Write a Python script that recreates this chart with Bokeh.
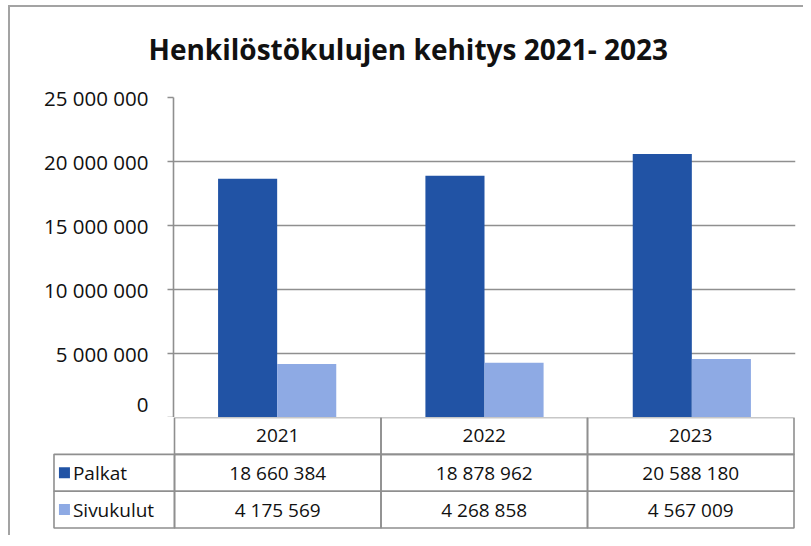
from bokeh.plotting import figure
from bokeh.models import Range1d, FixedTicker, CustomJSTickFormatter, ColumnDataSource
from bokeh.transform import dodge
from bokeh.core.properties import value
from bokeh.embed import file_html
from bokeh.resources import INLINE

# ---- data ----
years = ["2021", "2022", "2023"]
series = ["Palkat", "Sivukulut"]
palkat = [18660384, 18878962, 20588180]
sivukulut = [4175569, 4268858, 4567009]
y_ticks = [0, 5000000, 10000000, 15000000, 20000000, 25000000]
title_text = "Henkilöstökulujen kehitys 2021- 2023"

# ---- style ----
DARK = "#2153a5"
LIGHT = "#8eaae4"
GRID = "#8f8f8f"
FONT = "Open Sans"
BORDER = "#a3a3a3"


def fmt(v):
    return f"{v:,}".replace(",", " ")


idx = list(range(len(years)))
src = ColumnDataSource(dict(x=idx, palkat=palkat, sivukulut=sivukulut))

BAR_W = 0.285
FRAME_W = 622  # px of chart frame for 3 category bands
u_per_px = 3 / FRAME_W

p1 = figure(width=803, height=417, x_range=Range1d(-0.5, 2.5),
            y_range=Range1d(0, 25000000), output_backend="svg",
            toolbar_location=None, x_axis_location=None,
            min_border_left=173, min_border_right=8, min_border_top=97,
            min_border_bottom=0)
p1.border_fill_color = None
p1.outline_line_color = None
p1.styles = {"background": (
    f"linear-gradient({BORDER},{BORDER}) 8px 5px / 2px 100% no-repeat, "
    f"linear-gradient({BORDER},{BORDER}) 8px 5px / 100% 2px no-repeat, white")}
p1.xgrid.visible = False
p1.ygrid.grid_line_color = GRID
p1.ygrid.grid_line_width = 1.6
p1.yaxis.ticker = FixedTicker(ticks=y_ticks)
p1.yaxis.formatter = CustomJSTickFormatter(
    code="return Math.round(tick).toString().replace(/\\B(?=(\\d{3})+(?!\\d))/g, ' ');")
p1.yaxis.axis_line_color = GRID
p1.yaxis.axis_line_width = 1.6
p1.yaxis.major_tick_line_color = GRID
p1.yaxis.major_tick_line_width = 1.6
p1.yaxis.major_tick_out = 6
p1.yaxis.major_tick_in = 0
p1.yaxis.minor_tick_line_color = None
p1.yaxis.major_label_standoff = 19
p1.yaxis.major_label_text_font = FONT
p1.yaxis.major_label_text_font_size = "20.5px"
p1.yaxis.major_label_text_color = "#111111"

p1.title.text = title_text
p1.title.align = "left"
p1.title.offset = -25
p1.title.vertical_align = "top"
p1.title.text_font = FONT
p1.title.text_font_size = "28px"
p1.title.text_font_style = "bold"
p1.title.text_color = "#111111"
p1.title.standoff = 56

p1.vbar(x=dodge("x", -BAR_W / 2, range=p1.x_range), top="palkat", width=BAR_W,
        source=src, color=DARK, line_color=None)
p1.vbar(x=dodge("x", BAR_W / 2, range=p1.x_range), top="sivukulut", width=BAR_W,
        source=src, color=LIGHT, line_color=None)

# ---- data table below ----
LAB_PX = 121
lab = LAB_PX * u_per_px
x_left = -0.5 - lab
pad = 1.5 * u_per_px
p2 = figure(width=803, height=118, x_range=Range1d(x_left - pad, 2.5 + pad),
            y_range=Range1d(-0.04, 3.0), output_backend="svg",
            toolbar_location=None, x_axis_location=None, y_axis_location=None,
            min_border_left=52, min_border_right=8, min_border_top=0,
            min_border_bottom=6)
p2.border_fill_color = None
p2.outline_line_color = None
p2.styles = {"background": (
    f"linear-gradient({BORDER},{BORDER}) 8px 0px / 2px 100% no-repeat, white")}
p2.grid.visible = False

# cells
cx, cy, cw = [], [], []
for i in idx:
    for row_y in (2.5, 1.5, 0.5):
        cx.append(i); cy.append(row_y); cw.append(1.0)
for row_y in (1.5, 0.5):
    cx.append(x_left + lab / 2); cy.append(row_y); cw.append(lab)
p2.rect(x=cx, y=cy, width=cw, height=1.0, fill_color=None,
        line_color=GRID, line_width=1.6)

# header years
p2.text(x=idx, y=[2.5] * 3, text=years, text_align="center", text_baseline="middle",
        text_font=value(FONT), text_font_size="19px", text_color="#111111")
# values
vals = [fmt(v) for v in palkat] + [fmt(v) for v in sivukulut]
p2.text(x=idx + idx, y=[1.5] * 3 + [0.5] * 3, text=vals, text_align="center",
        text_baseline="middle", text_font=value(FONT), text_font_size="19px",
        text_color="#111111")
# legend keys and labels
p2.scatter(x=[x_left + 10.5 * u_per_px] * 2, y=[1.5, 0.5], marker="square", size=11,
           color=[DARK, LIGHT], line_color=None)
p2.text(x=[x_left + 19 * u_per_px] * 2, y=[1.5, 0.5], text=series, text_align="left",
        text_baseline="middle", text_font=value(FONT), text_font_size="19px",
        text_color="#111111")

open("out.html", "w").write(file_html([p1, p2], INLINE))
